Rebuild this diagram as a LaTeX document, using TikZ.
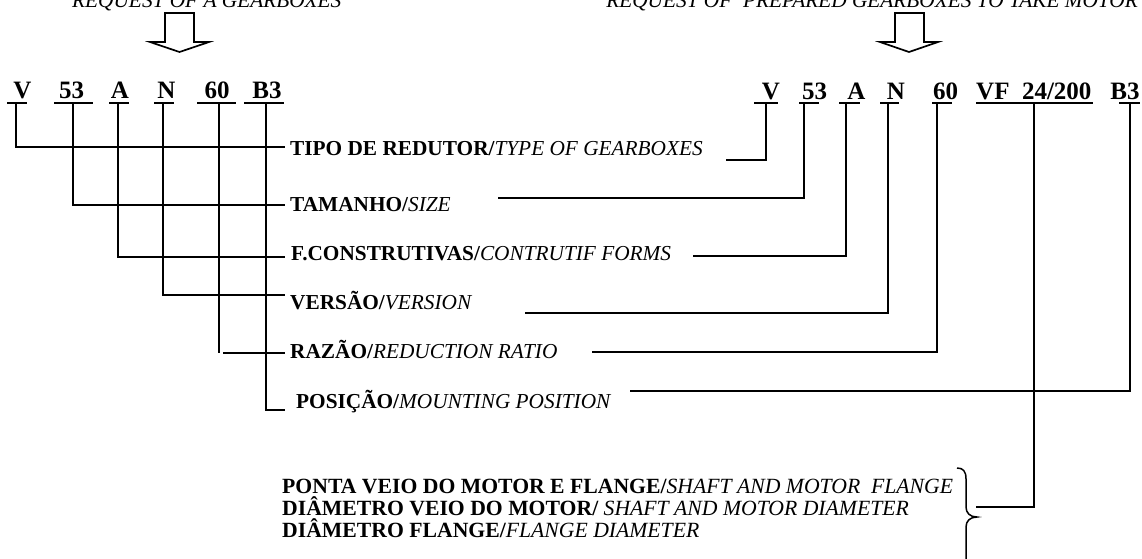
\documentclass[tikz,border=0pt]{standalone}
\usepackage{fontspec}
\setmainfont{Liberation Serif}
\begin{document}
\begin{tikzpicture}[x=1pt,y=-1pt,
  ln/.style={line width=1.7pt},
  code/.style={inner sep=0pt,anchor=base,font=\fontsize{25}{26}\selectfont\bfseries},
  lbl/.style={inner sep=0pt,anchor=base west,font=\fontsize{21.3}{22}\selectfont},
  blbl/.style={inner sep=0pt,anchor=base west,font=\fontsize{21.7}{22}\selectfont},
  hollow/.style={line width=1.7pt,fill=white}]
\useasboundingbox (0,0) rectangle (1142,558);
% top texts
\node[lbl,anchor=base west] (reqL) at (72,7) {\itshape REQUEST OF A GEARBOXES};
\node[lbl,anchor=base east] (reqR) at (1138,7) {\itshape REQUEST OF~~PREPARED GEARBOXES TO TAKE MOTOR};
% hollow arrows
\draw[hollow] (165,13) -- (194,13) -- (194,42) -- (209,42) -- (179.5,52) -- (150,42) -- (165,42) -- cycle;
\draw[hollow] (895,13) -- (924,13) -- (924,42) -- (938,42) -- (909,52) -- (880,42) -- (895,42) -- cycle;
% left codes
\node[code] (cV)  at (22.5,98) {V};
\node[code] (c53) at (71.5,98) {53};
\node[code] (cA)  at (120,98) {A};
\node[code] (cN)  at (166.5,98) {N};
\node[code] (c60) at (217,98) {60};
\node[code] (cB3) at (267,98) {B3};
\draw[ln] (7,103) -- (27,103);
\draw[ln] (54,103) -- (93,103);
\draw[ln] (109,103) -- (129,103);
\draw[ln] (154,103) -- (174,103);
\draw[ln] (197,103) -- (236,103);
\draw[ln] (244,103) -- (284,103);
% right codes
\node[code] (dV)  at (771,99) {V};
\node[code] (d53) at (814.5,99) {53};
\node[code] (dA)  at (856.5,99) {A};
\node[code] (dN)  at (896,99) {N};
\node[code] (d60) at (945.5,99) {60};
\node[code,anchor=base west] (dVF) at (976,99) {VF~~24/200};
\node[code] (dB3) at (1125,99) {B3};
\draw[ln] (754,103) -- (778,103);
\draw[ln] (799,103) -- (819,103);
\draw[ln] (839,103) -- (860,103);
\draw[ln] (880,103) -- (899,103);
\draw[ln] (932,103) -- (952,103);
\draw[ln] (976,103) -- (1093,103);
\draw[ln] (1119,103) -- (1140,103);
% labels
\node[lbl] (tipo) at (290,155) {\bfseries TIPO DE REDUTOR/\normalfont\itshape TYPE OF GEARBOXES};
\node[lbl] (tam)  at (290,211) {\bfseries TAMANHO/\normalfont\itshape SIZE};
\node[lbl] (fc)   at (291,260) {\bfseries F.CONSTRUTIVAS/\normalfont\itshape CONTRUTIF FORMS};
\node[lbl] (ver)  at (290,309) {\bfseries VERSÃO/\normalfont\itshape VERSION};
\node[lbl] (raz)  at (290,358) {\bfseries RAZÃO/\normalfont\itshape REDUCTION RATIO};
\node[lbl] (pos)  at (296,408) {\bfseries POSIÇÃO/\normalfont\itshape MOUNTING POSITION};
\node[blbl] (b1) at (282,493) {\bfseries PONTA VEIO DO MOTOR E FLANGE/\normalfont\itshape SHAFT AND MOTOR~~FLANGE};
\node[blbl] (b2) at (282,515) {\bfseries DIÂMETRO VEIO DO MOTOR/\normalfont\itshape~SHAFT AND MOTOR DIAMETER};
\node[blbl] (b3) at (282,537) {\bfseries DIÂMETRO FLANGE/\normalfont\itshape FLANGE DIAMETER};
% left connector coordinates
\coordinate (lV) at (16,103);   \coordinate (lTipo) at (285,147);
\coordinate (l53) at (73,103);  \coordinate (lTam) at (285,205);
\coordinate (lA) at (118,103);  \coordinate (lFc) at (285,257);
\coordinate (lN) at (163,103);  \coordinate (lVer) at (285,295);
\coordinate (l60) at (219,103); \coordinate (l60e) at (219,353);
\coordinate (lRazs) at (223,353); \coordinate (lRaz) at (285,353);
\coordinate (lB3) at (266,103); \coordinate (lPos) at (285,410);
\draw[ln] (lV) |- (lTipo);
\draw[ln] (l53) |- (lTam);
\draw[ln] (lA) |- (lFc);
\draw[ln] (lN) |- (lVer);
\draw[ln] (l60) -- (l60e);
\draw[ln] (lRazs) -- (lRaz);
\draw[ln] (lB3) |- (lPos);
% right connector coordinates
\coordinate (rV) at (766,103);   \coordinate (rTipo) at (726,160);
\coordinate (r53) at (804,103);  \coordinate (rTam) at (498,198);
\coordinate (rA) at (846,103);   \coordinate (rFc) at (693,256);
\coordinate (rN) at (888,103);   \coordinate (rVer) at (525,313);
\coordinate (r60) at (937,103);  \coordinate (rRaz) at (592,352);
\coordinate (rB3) at (1130,103); \coordinate (rPos) at (630,391);
\coordinate (rVF) at (1034,103); \coordinate (rBr) at (976,507);
\draw[ln] (rV) |- (rTipo);
\draw[ln] (r53) |- (rTam);
\draw[ln] (rA) |- (rFc);
\draw[ln] (rN) |- (rVer);
\draw[ln] (r60) |- (rRaz);
\draw[ln] (rB3) |- (rPos);
\draw[ln] (rVF) |- (rBr);
% brace
\draw[line width=1.5pt] (957,468) .. controls (963,468) and (966,471) .. (966,479) -- (966,507)
  .. controls (966,513) and (970,517) .. (977,517)
  .. controls (970,517) and (966,521) .. (966,527) -- (966,570);
\end{tikzpicture}
\end{document}
